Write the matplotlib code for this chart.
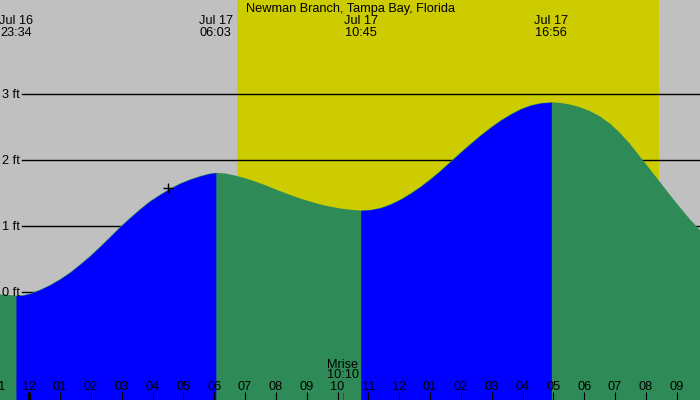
"""Tide chart for Newman Branch, Tampa Bay, Florida (Jul 16-17)."""

import matplotlib
matplotlib.use("Agg")
import matplotlib.pyplot as plt
from matplotlib import transforms

plt.rcParams["font.family"] = ["Liberation Sans", "DejaVu Sans"]

TITLE = "Newman Branch, Tampa Bay, Florida"

# hours relative to Jul 17 00:00, tide height in feet
tide_hours = [-0.95, -0.433, -0.20, 0.02, 0.35, 0.67, 1.00, 1.32, 1.64, 1.97,
              2.29, 2.62, 2.94, 3.27, 3.59, 3.91, 4.24, 4.56, 4.89, 5.21,
              5.53, 5.86, 6.05, 6.35, 6.67, 6.99, 7.32, 7.64, 7.96, 8.29,
              8.61, 8.93, 9.26, 9.58, 9.91, 10.23, 10.56, 10.75, 11.07, 11.40,
              11.72, 12.05, 12.37, 12.70, 13.02, 13.35, 13.67, 14.00, 14.32, 14.65,
              14.97, 15.30, 15.62, 15.95, 16.27, 16.60, 16.933, 17.21, 17.54, 17.86,
              18.19, 18.51, 18.84, 19.16, 19.49, 19.81, 20.13, 20.46, 20.78, 21.11,
              21.43, 21.76]
tide_ft = [-0.03, -0.05, -0.045, -0.02, 0.04, 0.11, 0.20, 0.30, 0.42, 0.55,
           0.69, 0.84, 0.99, 1.13, 1.26, 1.38, 1.48, 1.57, 1.65, 1.71,
           1.76, 1.80, 1.81, 1.80, 1.77, 1.73, 1.68, 1.625, 1.565, 1.505,
           1.45, 1.40, 1.355, 1.315, 1.285, 1.26, 1.245, 1.24, 1.25, 1.28,
           1.335, 1.41, 1.50, 1.605, 1.72, 1.85, 1.985, 2.125, 2.255, 2.385,
           2.50, 2.61, 2.70, 2.78, 2.835, 2.868, 2.88, 2.87, 2.845, 2.805,
           2.745, 2.665, 2.555, 2.415, 2.245, 2.055, 1.865, 1.67, 1.475, 1.285,
           1.105, 0.94]

# highs / lows
extreme_hours = [-0.433, 6.05, 10.75, 16.933]
extreme_dates = ["Jul 16", "Jul 17", "Jul 17", "Jul 17"]
extreme_times = ["23:34", "06:03", "10:45", "16:56"]

sunrise_hour = 6.73
sunset_hour = 20.42
moonrise_hour = 10.167
moonrise_label = "10:10"

now_hour = 4.51
now_ft = 1.576

level_ft = [0, 1, 2, 3]
level_labels = ["0 ft", "1 ft", "2 ft", "3 ft"]

hour_ticks = list(range(-1, 23))
hour_labels = ["11", "12", "01", "02", "03", "04", "05", "06", "07", "08", "09", "10",
               "11", "12", "01", "02", "03", "04", "05", "06", "07", "08", "09", "10"]

GREY = "#c0c0c0"
DAY = "#cccc00"
EBB = "#2e8b57"
FLOOD = "#0000ff"

fig = plt.figure(figsize=(7, 4), dpi=100, facecolor=GREY)
ax = fig.add_axes([0, 0, 1, 1])
ax.set_axis_off()
ax.set_xlim(-0.95, 21.755)
ax.set_ylim(-1.632, 4.429)
bottom = -1.7

ax.axvspan(sunrise_hour, sunset_hour, color=DAY, lw=0, zorder=1)

for lv in level_ft:
    ax.axhline(lv, xmin=22 / 700, color="black", lw=1.0, zorder=2)

# whole curve as ebb, then flood stretches on top
ax.fill_between(tide_hours, tide_ft, bottom, color=EBB, lw=0, zorder=3)
for a, b in zip(extreme_hours[:-1], extreme_hours[1:]):
    i0 = tide_hours.index(a)
    i1 = tide_hours.index(b)
    if tide_ft[i1] > tide_ft[i0]:
        ax.fill_between(tide_hours[i0:i1 + 1], tide_ft[i0:i1 + 1], bottom,
                        color=FLOOD, lw=0, zorder=4)

ax.plot([now_hour], [now_ft], marker="+", color="black", ms=7.5, mew=1.0,
        zorder=6)

# labels for the height lines
ylab = transforms.offset_copy(
    transforms.blended_transform_factory(ax.transAxes, ax.transData),
    fig=fig, x=0, y=-4, units="dots")
fs = 9.2
for lv, lab in zip(level_ft, level_labels):
    ax.text(2 / 700, lv, lab, transform=ylab, ha="left", va="baseline",
            fontsize=fs, zorder=5)

xt = ax.get_xaxis_transform()
ax.text(0.5, 1 - 12 / 400, TITLE, transform=ax.transAxes, ha="center",
        va="baseline", fontsize=fs, zorder=7)
for hr, d, t in zip(extreme_hours, extreme_dates, extreme_times):
    ax.text(hr, 1 - 24 / 400, d, transform=xt, ha="center", va="baseline",
            fontsize=fs, zorder=7)
    ax.text(hr, 1 - 36 / 400, t, transform=xt, ha="center", va="baseline",
            fontsize=fs, zorder=7)

# hour ticks along the bottom
for hr, lab in zip(hour_ticks, hour_labels):
    w = 2.2 if hr == 0 else 0.8
    ax.plot([hr, hr], [0, 8 / 400], transform=xt, color="black", lw=w,
            solid_capstyle="butt", zorder=7)
    ax.text(hr, 10 / 400, lab, transform=xt, ha="center", va="baseline",
            fontsize=fs, zorder=7)

ax.plot([moonrise_hour, moonrise_hour], [0, 8 / 400], transform=xt,
        color="red", lw=0.8, solid_capstyle="butt", zorder=7)
ax.text(moonrise_hour, 32 / 400, "Mrise", transform=xt, ha="center",
        va="baseline", fontsize=fs, zorder=7)
ax.text(moonrise_hour, 22 / 400, moonrise_label, transform=xt, ha="center",
        va="baseline", fontsize=fs, zorder=7)

fig.savefig("out.png", dpi=100, facecolor=GREY)
